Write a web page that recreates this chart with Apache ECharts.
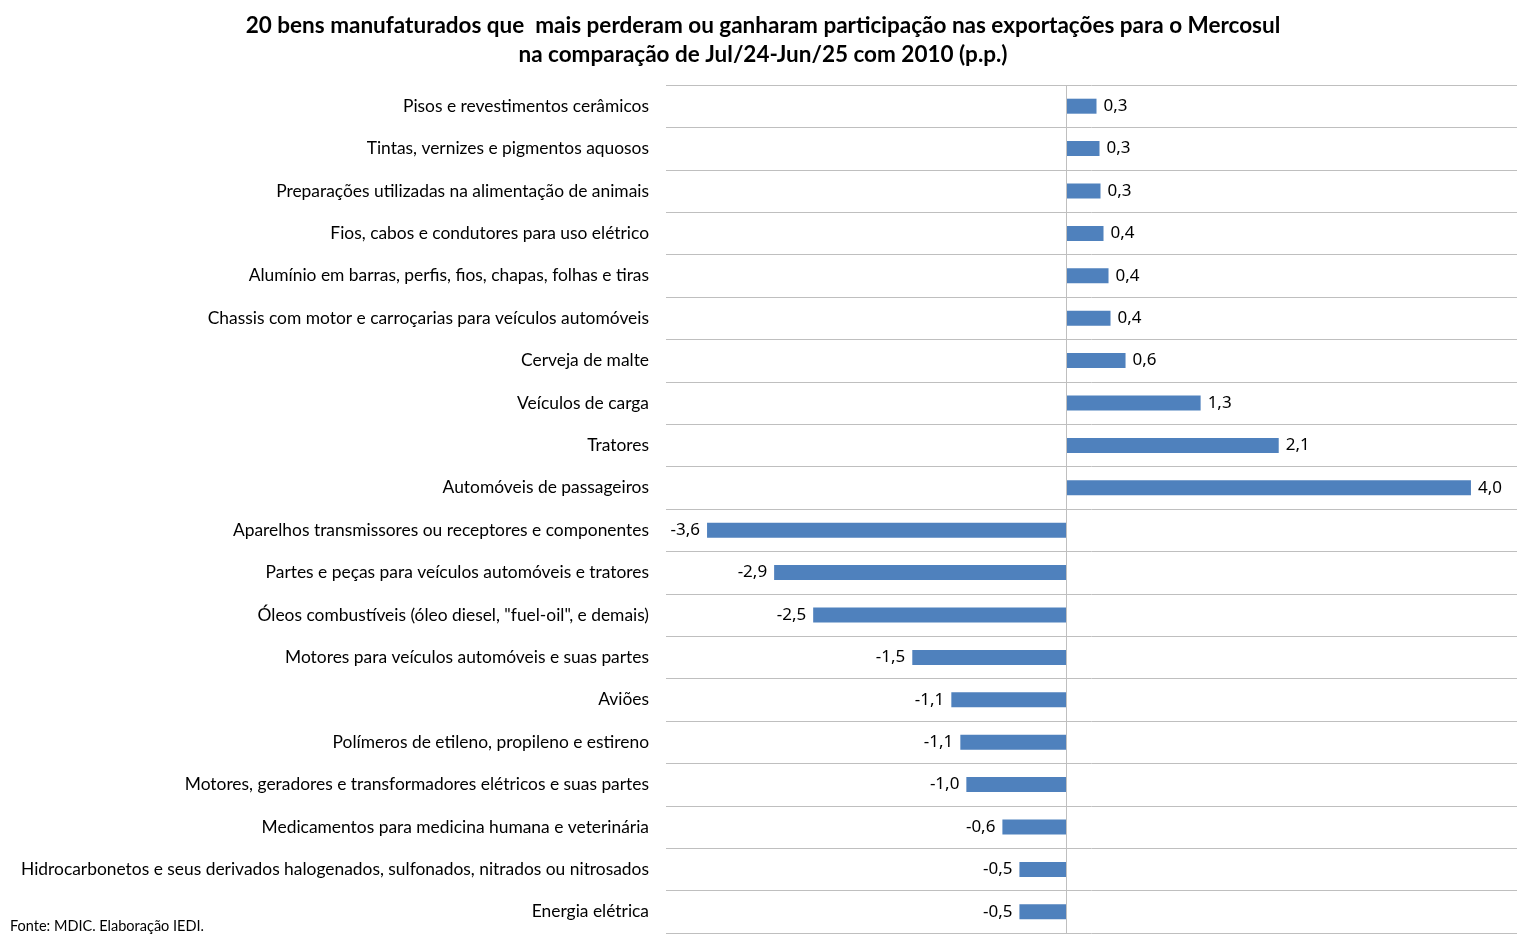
<!DOCTYPE html>
<html>
<head>
<meta charset="utf-8">
<script src="https://cdn.jsdelivr.net/npm/echarts@6/dist/echarts.min.js"></script>
<style>
html,body{margin:0;padding:0;background:#fff;}
#c{width:1519px;height:947px;}
</style>
</head>
<body>
<div id="c"></div>
<script>
var categories = [
  "Pisos e revestimentos cerâmicos",
  "Tintas, vernizes e pigmentos aquosos",
  "Preparações utilizadas na alimentação de animais",
  "Fios, cabos e condutores para uso elétrico",
  "Alumínio em barras, perfis, fios, chapas, folhas e tiras",
  "Chassis com motor e carroçarias para veículos automóveis",
  "Cerveja de malte",
  "Veículos de carga",
  "Tratores",
  "Automóveis de passageiros",
  "Aparelhos transmissores ou receptores e componentes",
  "Partes e peças para veículos automóveis e tratores",
  "Óleos combustíveis (óleo diesel, \"fuel-oil\", e demais)",
  "Motores para veículos automóveis e suas partes",
  "Aviões",
  "Polímeros de etileno, propileno e estireno",
  "Motores, geradores e transformadores elétricos e suas partes",
  "Medicamentos para medicina humana e veterinária",
  "Hidrocarbonetos e seus derivados halogenados, sulfonados, nitrados ou nitrosados",
  "Energia elétrica"
];
var values = [0.30, 0.33, 0.34, 0.37, 0.42, 0.44, 0.59, 1.34, 2.12, 4.04,
  -3.59, -2.92, -2.53, -1.54, -1.15, -1.06, -1.00, -0.64, -0.47, -0.47];
var titleLines = [
  "20 bens manufaturados que  mais perderam ou ganharam participação nas exportações para o Mercosul",
  "na comparação de Jul/24-Jun/25 com 2010 (p.p.)"
];
var sourceText = "Fonte: MDIC. Elaboração IEDI.";

var chart = echarts.init(document.getElementById('c'));
var data = values.map(function (v) {
  return { value: v, label: { position: v >= 0 ? 'right' : 'left' } };
});
chart.setOption({
  animation: false,
  backgroundColor: '#fff',
  title: {
    text: titleLines.join('\n'),
    left: 758, top: 6, textAlign: 'center',
    textStyle: { fontFamily: 'Lato', fontWeight: 'bold', fontSize: 22.5, lineHeight: 29, color: '#000' }
  },
  graphic: [{
    type: 'text', left: 10, top: 919,
    style: { text: sourceText, font: '14.5px Lato', fill: '#000' }
  }],
  grid: { left: 666, right: 2, top: 85, bottom: 14, containLabel: false },
  xAxis: {
    type: 'value', min: -4, max: 4.5,
    axisLine: { show: false }, axisTick: { show: false },
    axisLabel: { show: false }, splitLine: { show: false }
  },
  yAxis: {
    type: 'category', data: categories, inverse: true,
    axisLine: { show: false }, axisTick: { show: false },
    axisLabel: { margin: 17, fontFamily: 'Lato', fontSize: 17.4, color: '#000' },
    splitLine: { show: true, lineStyle: { color: '#BFBFBF', width: 1 } }
  },
  series: [{
    type: 'bar', data: data, barWidth: 15,
    itemStyle: { color: '#4F81BD' },
    label: {
      show: true, distance: 7,
      fontFamily: 'Noto Sans', fontSize: 17, color: '#000',
      formatter: function (p) { return p.value.toFixed(1).replace('.', ','); }
    },
    markLine: {
      silent: true, symbol: 'none', label: { show: false },
      lineStyle: { color: '#BFBFBF', type: 'solid', width: 1 },
      data: [{ xAxis: 0 }]
    }
  }]
});
</script>
</body>
</html>
